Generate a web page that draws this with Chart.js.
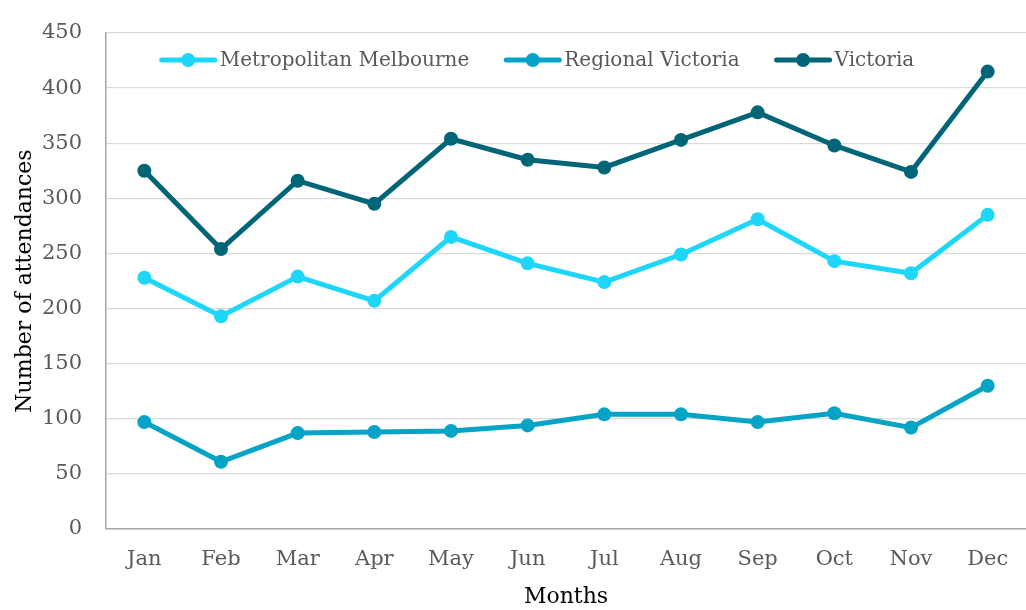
<!DOCTYPE html>
<html>
<head>
<meta charset="utf-8">
<script src="https://cdn.jsdelivr.net/npm/chart.js@4"></script>
<style>
  body { margin: 0; background: #fff; }
  #wrap { width: 1026px; height: 610px; }
</style>
</head>
<body>
<div id="wrap"><canvas id="chart" width="1026" height="610"></canvas></div>
<script>
var months = ['Jan','Feb','Mar','Apr','May','Jun','Jul','Aug','Sep','Oct','Nov','Dec'];
var metro = [228, 193, 229, 207, 265, 241, 224, 249, 281, 243, 232, 285];
var regional = [97, 61, 87, 88, 89, 94, 104, 104, 97, 105, 92, 130];
var victoria = [325, 254, 316, 295, 354, 335, 328, 353, 378, 348, 324, 415];
var seriesNames = ['Metropolitan Melbourne', 'Regional Victoria', 'Victoria'];
var colors = ['#1ed6fa', '#05a3c5', '#006577'];

var serif = "'DejaVu Serif', serif";

function ds(label, data, col) {
  return {
    label: label,
    data: data,
    borderColor: col,
    backgroundColor: col,
    borderWidth: 5,
    pointRadius: 7,
    pointHoverRadius: 7,
    pointBorderWidth: 0,
    tension: 0
  };
}

// legend drawn inside the plot, line + dot + text like the original
var insideLegend = {
  id: 'insideLegend',
  afterDraw: function(chart) {
    var ctx = chart.ctx;
    ctx.save();
    ctx.font = '20px ' + serif;
    ctx.textBaseline = 'middle';
    var lineLen = 53, gap = 37, txtOff = 5;
    var widths = chart.data.datasets.map(function(d) {
      return lineLen + txtOff + ctx.measureText(d.label).width;
    });
    var total = widths.reduce(function(a, b) { return a + b; }, 0) + gap * (widths.length - 1);
    var x = 538 - total / 2;
    var y = 60;
    chart.data.datasets.forEach(function(d, i) {
      ctx.strokeStyle = d.borderColor;
      ctx.lineWidth = 5;
      ctx.lineCap = 'round';
      ctx.beginPath();
      ctx.moveTo(x, y);
      ctx.lineTo(x + lineLen, y);
      ctx.stroke();
      ctx.fillStyle = d.borderColor;
      ctx.beginPath();
      ctx.arc(x + lineLen / 2, y, 7, 0, Math.PI * 2);
      ctx.fill();
      ctx.fillStyle = '#595959';
      ctx.fillText(d.label, x + lineLen + txtOff, y + 1);
      x += widths[i] + gap;
    });
    ctx.restore();
  }
};

new Chart(document.getElementById('chart'), {
  type: 'line',
  data: {
    labels: months,
    datasets: [
      ds(seriesNames[0], metro, colors[0]),
      ds(seriesNames[1], regional, colors[1]),
      ds(seriesNames[2], victoria, colors[2])
    ]
  },
  options: {
    responsive: false,
    animation: false,
    layout: { autoPadding: false, padding: { top: 33, right: -3, left: 0, bottom: 0 } },
    plugins: {
      legend: { display: false },
      tooltip: { enabled: false }
    },
    scales: {
      x: {
        offset: true,
        grid: { display: false, drawTicks: false, offset: true },
        border: { display: true, color: '#a6a6a6', width: 1.5 },
        ticks: { color: '#595959', font: { family: serif, size: 21 }, padding: 18 },
        title: { display: true, text: 'Months', color: '#000', font: { family: serif, size: 22 }, padding: { top: 0, bottom: 0 } },
        afterFit: function(s) { s.height = 81; s.paddingLeft = 0; s.paddingRight = 0; }
      },
      y: {
        min: 0,
        max: 450,
        ticks: { stepSize: 50, color: '#595959', font: { family: serif, size: 21 }, padding: 24 },
        grid: { color: '#d9d9d9', lineWidth: 1.3, drawTicks: false },
        border: { display: true, color: '#a6a6a6', width: 1.5 },
        title: { display: true, text: 'Number of attendances', color: '#000', font: { family: serif, size: 22 }, padding: { top: 12, bottom: 0 } },
        afterFit: function(s) { s.width = 106; s.paddingTop = 0; s.paddingBottom = 0; }
      }
    }
  },
  plugins: [insideLegend]
});
</script>
</body>
</html>
